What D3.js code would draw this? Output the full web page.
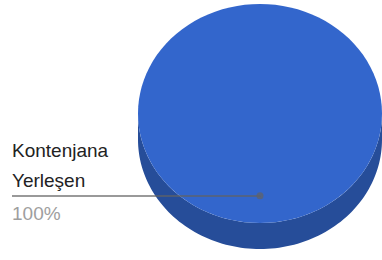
<!DOCTYPE html>
<html>
<head>
<meta charset="utf-8">
<script src="https://cdn.jsdelivr.net/npm/d3@7"></script>
<style>
  body { margin: 0; background: #fff; }
  text { font-family: Arial, "Liberation Sans", sans-serif; }
</style>
</head>
<body>
<svg width="382" height="260"></svg>
<script>
// chart data
const categories = ['Kontenjana Yerleşen']
const values = [100]
const colors = ['#3366cc']
const sideColors = ['#264d99']

const svg = d3.select('svg')
const cx = 260, cy = 113.5, rx = 122, ry = 109.5, depth = 26

const pie = d3.pie().sort(null)(values)
const total = d3.sum(values)

// angle (clockwise from top) -> point on the top ellipse
const pt = (a, k = 1, dy = 0) => [cx + rx * k * Math.sin(a), cy - ry * k * Math.cos(a) + dy]
const line = d3.line()
const sample = (a0, a1) => d3.range(0, 101).map(i => a0 + (a1 - a0) * i / 100)

const g = svg.append('g')

// side walls (only the front half, pi/2 .. 3pi/2)
pie.forEach((d, i) => {
  const a0 = Math.max(d.startAngle, Math.PI / 2)
  const a1 = Math.min(d.endAngle, Math.PI * 1.5)
  if (a1 <= a0) return
  const rim = sample(a0, a1)
  const pts = rim.map(a => pt(a)).concat(rim.slice().reverse().map(a => pt(a, 1, depth)))
  g.append('path')
    .attr('d', line(pts) + 'Z')
    .attr('fill', sideColors[i])
})

// top faces
pie.forEach((d, i) => {
  const rim = sample(d.startAngle, d.endAngle).map(a => pt(a))
  const pts = (d.endAngle - d.startAngle) >= 2 * Math.PI - 1e-6 ? rim : [[cx, cy]].concat(rim)
  g.append('path')
    .attr('d', line(pts) + 'Z')
    .attr('fill', colors[i])
})

// labels with leader lines
const labelX = 12, lineY = 196
pie.forEach((d, i) => {
  const mid = (d.startAngle + d.endAngle) / 2
  const dot = pt(mid, 0.75)
  svg.append('path')
    .attr('d', line([[labelX, lineY], [dot[0], lineY], dot]))
    .attr('fill', 'none')
    .attr('stroke', '#636363')
    .attr('stroke-opacity', 0.65)
    .attr('stroke-width', 2)
  svg.append('circle')
    .attr('cx', dot[0]).attr('cy', dot[1]).attr('r', 3.5)
    .attr('fill', '#636363').attr('fill-opacity', 0.7)

  const words = categories[i].split(' ')
  const t = svg.append('text')
    .attr('x', labelX).attr('font-size', 19).attr('fill', '#222222')
  words.forEach((w, j) => {
    t.append('tspan').attr('x', labelX).attr('y', lineY - 9 - (words.length - 1 - j) * 30).text(w)
  })
  svg.append('text')
    .attr('x', labelX).attr('y', lineY + 24)
    .attr('font-size', 19).attr('fill', '#9e9e9e')
    .text(d3.format('.0%')(d.value / total))
})
</script>
</body>
</html>
